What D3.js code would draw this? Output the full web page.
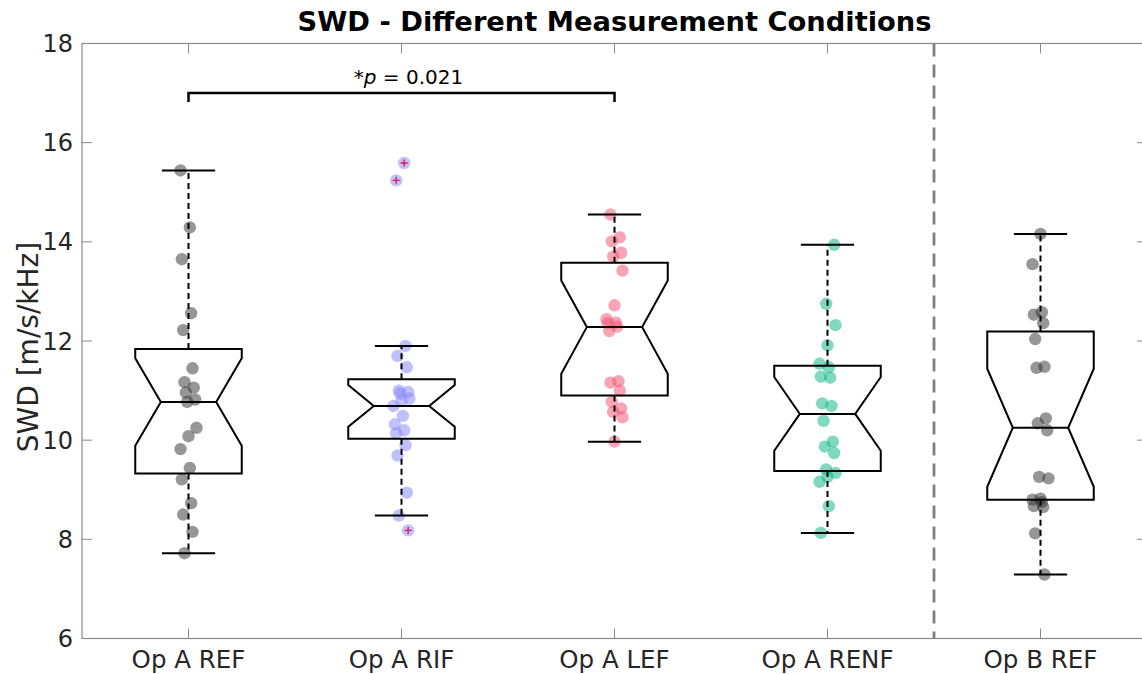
<!DOCTYPE html>
<html>
<head>
<meta charset="utf-8">
<script src="https://cdn.jsdelivr.net/npm/d3@7"></script>
<style>
  html, body { margin: 0; padding: 0; background: #fff; }
  svg { display: block; font-family: "DejaVu Sans", sans-serif; }
</style>
</head>
<body>
<svg id="chart" width="1142" height="674"></svg>
<script>
// ---------- data ----------
const categories = ["Op A REF", "Op A RIF", "Op A LEF", "Op A RENF", "Op B REF"];

const opA_REF  = [15.44, 14.29, 13.65, 12.56, 12.22, 11.45, 11.17, 11.06, 10.96, 10.82, 10.77, 10.25, 10.08, 9.82, 9.44, 9.21, 8.73, 8.50, 8.15, 7.72];
const opA_RIF  = [15.59, 15.24, 11.90, 11.70, 11.47, 11.00, 10.97, 10.94, 10.84, 10.79, 10.69, 10.49, 10.32, 10.20, 10.14, 9.90, 9.69, 8.94, 8.48, 8.18];
const opA_LEF  = [14.55, 14.09, 14.01, 13.78, 13.70, 13.42, 12.72, 12.44, 12.37, 12.36, 12.29, 12.20, 11.19, 11.16, 11.00, 10.77, 10.64, 10.57, 10.46, 9.97];
const opA_RENF = [13.94, 12.75, 12.32, 11.91, 11.54, 11.47, 11.28, 11.26, 10.74, 10.69, 10.39, 9.97, 9.87, 9.74, 9.41, 9.34, 9.26, 9.16, 8.67, 8.13];
const opB_REF  = [14.16, 13.55, 12.58, 12.53, 12.36, 12.04, 11.48, 11.46, 10.44, 10.34, 10.20, 9.26, 9.23, 8.82, 8.80, 8.75, 8.67, 8.65, 8.12, 7.29];

// box statistics
const q1Values     = [9.33, 10.03, 10.90, 9.38, 8.80];
const medianValues = [10.77, 10.69, 12.28, 10.53, 10.25];
const q3Values     = [11.84, 11.23, 13.58, 11.50, 12.19];
const whiskerLow   = [7.72, 8.48, 9.97, 8.13, 7.29];
const whiskerHigh  = [15.44, 11.90, 14.55, 13.94, 14.16];

const yTicks = [6, 8, 10, 12, 14, 16, 18];
const pText = "0.021";
const sigPair = [0, 2];
const sigLevel = 17;

// ---------- layout ----------
const seriesData = [opA_REF, opA_RIF, opA_LEF, opA_RENF, opB_REF];
const colors = ["#2d2d2d", "#8181ff", "#f34b6b", "#01b181", "#2d2d2d"];

const svg = d3.select("#chart");
const mLeft = 82, mTop = 43.5, mRight = 1147, mBottom = 638.5;

const x = d3.scaleLinear().domain([0.5, 5.5]).range([mLeft, mRight]);
const y = d3.scaleLinear().domain([6, 18]).range([mBottom, mTop]);
const step = x(2) - x(1);
const boxHalf = step * 0.25;
const notchHalf = boxHalf * 0.52;
const capHalf = step * 0.125;

// title
svg.append("text")
  .attr("x", (mLeft + mRight) / 2).attr("y", 31)
  .attr("text-anchor", "middle")
  .attr("font-size", 27.3).attr("font-weight", "bold").attr("fill", "#000")
  .text("SWD - Different Measurement Conditions");

// axes frame
const axisColor = "#8a8a8a";
svg.append("rect")
  .attr("x", mLeft).attr("y", mTop)
  .attr("width", mRight - mLeft).attr("height", mBottom - mTop)
  .attr("fill", "none").attr("stroke", axisColor).attr("stroke-width", 1.2);

// y ticks + labels
const yAxis = svg.append("g");
yTicks.forEach(t => {
  yAxis.append("line").attr("x1", mLeft).attr("x2", mLeft + 10)
    .attr("y1", y(t)).attr("y2", y(t)).attr("stroke", axisColor).attr("stroke-width", 1);
  yAxis.append("line").attr("x1", mRight).attr("x2", mRight - 10)
    .attr("y1", y(t)).attr("y2", y(t)).attr("stroke", axisColor).attr("stroke-width", 1);
  yAxis.append("text").attr("x", mLeft - 9).attr("y", y(t))
    .attr("dy", "0.36em").attr("text-anchor", "end")
    .attr("font-size", 24).attr("fill", "#262626").text(t);
});

// x ticks + labels
categories.forEach((c, i) => {
  const cx = x(i + 1);
  svg.append("line").attr("x1", cx).attr("x2", cx).attr("y1", mBottom).attr("y2", mBottom - 10)
    .attr("stroke", axisColor).attr("stroke-width", 1);
  svg.append("line").attr("x1", cx).attr("x2", cx).attr("y1", mTop).attr("y2", mTop + 10)
    .attr("stroke", axisColor).attr("stroke-width", 1);
  svg.append("text").attr("x", cx).attr("y", mBottom + 29)
    .attr("text-anchor", "middle").attr("font-size", 24.5).attr("fill", "#262626").text(c);
});

// y label
svg.append("text")
  .attr("transform", `translate(28,${(mTop + mBottom) / 2 + 6}) rotate(-90)`)
  .attr("text-anchor", "middle").attr("dy", "0.36em")
  .attr("font-size", 28).attr("fill", "#262626")
  .text("SWD [m/s/kHz]");

// separator dashed line between groups 4 and 5
svg.append("line")
  .attr("x1", x(4.5)).attr("x2", x(4.5)).attr("y1", mTop).attr("y2", mBottom)
  .attr("stroke", "#808080").attr("stroke-width", 2.8).attr("stroke-dasharray", "13,8");

// jitter (deterministic)
const jitter = i => ((((i * 7) % 13) / 12) - 0.5) * 0.075;

// points
seriesData.forEach((vals, g) => {
  const grp = svg.append("g");
  vals.forEach((v, i) => {
    grp.append("circle")
      .attr("cx", x(g + 1 + jitter(i + g * 3)))
      .attr("cy", y(v)).attr("r", 6.2)
      .attr("fill", colors[g]).attr("fill-opacity", 0.5);
  });
});

// boxes
seriesData.forEach((vals, g) => {
  const cx = x(g + 1);
  const n = vals.length;
  const iqr = q3Values[g] - q1Values[g];
  const nHi = medianValues[g] + 1.57 * iqr / Math.sqrt(n);
  const nLo = medianValues[g] - 1.57 * iqr / Math.sqrt(n);
  const pts = [
    [cx - boxHalf, y(q3Values[g])],
    [cx + boxHalf, y(q3Values[g])],
    [cx + boxHalf, y(nHi)],
    [cx + notchHalf, y(medianValues[g])],
    [cx + boxHalf, y(nLo)],
    [cx + boxHalf, y(q1Values[g])],
    [cx - boxHalf, y(q1Values[g])],
    [cx - boxHalf, y(nLo)],
    [cx - notchHalf, y(medianValues[g])],
    [cx - boxHalf, y(nHi)]
  ];
  const grp = svg.append("g");
  grp.append("line").attr("x1", cx).attr("x2", cx)
    .attr("y1", y(q3Values[g])).attr("y2", y(whiskerHigh[g]))
    .attr("stroke", "#000").attr("stroke-width", 2).attr("stroke-dasharray", "6,4");
  grp.append("line").attr("x1", cx).attr("x2", cx)
    .attr("y1", y(q1Values[g])).attr("y2", y(whiskerLow[g]))
    .attr("stroke", "#000").attr("stroke-width", 2).attr("stroke-dasharray", "6,4");
  [whiskerHigh[g], whiskerLow[g]].forEach(w => {
    grp.append("line").attr("x1", cx - capHalf).attr("x2", cx + capHalf)
      .attr("y1", y(w)).attr("y2", y(w)).attr("stroke", "#000").attr("stroke-width", 2);
  });
  grp.append("path")
    .attr("d", d3.line()(pts) + "Z")
    .attr("fill", "none").attr("stroke", "#000").attr("stroke-width", 2);
  grp.append("line").attr("x1", cx - notchHalf).attr("x2", cx + notchHalf)
    .attr("y1", y(medianValues[g])).attr("y2", y(medianValues[g]))
    .attr("stroke", "#000").attr("stroke-width", 2);
  vals.forEach((v, i) => {
    if (v > whiskerHigh[g] || v < whiskerLow[g]) {
      const px = x(g + 1 + jitter(i + g * 3)), py = y(v);
      grp.append("path")
        .attr("d", `M${px - 3.5},${py}H${px + 3.5}M${px},${py - 3.5}V${py + 3.5}`)
        .attr("stroke", "#e8174f").attr("stroke-width", 1.4);
    }
  });
});

// significance bracket
const bx1 = x(sigPair[0] + 1), bx2 = x(sigPair[1] + 1);
svg.append("path")
  .attr("d", `M${bx1},${y(sigLevel - 0.18)}V${y(sigLevel)}H${bx2}V${y(sigLevel - 0.18)}`)
  .attr("fill", "none").attr("stroke", "#000").attr("stroke-width", 2.5);
const pt = svg.append("text")
  .attr("x", (bx1 + bx2) / 2 + 7).attr("y", y(sigLevel + 0.18))
  .attr("text-anchor", "middle").attr("font-size", 20).attr("fill", "#000");
pt.append("tspan").text("*");
pt.append("tspan").attr("font-style", "italic").text("p");
pt.append("tspan").text(" = " + pText);
</script>
</body>
</html>
